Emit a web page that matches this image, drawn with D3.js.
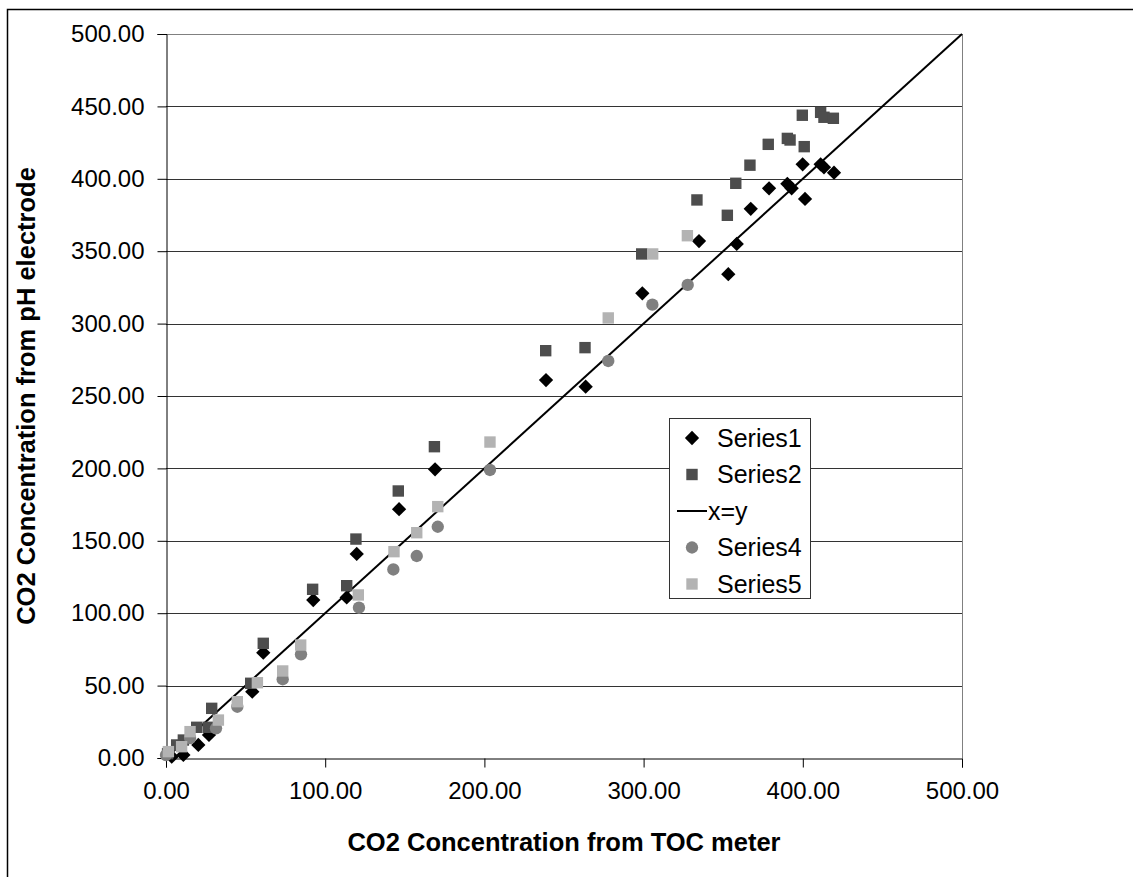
<!DOCTYPE html>
<html>
<head>
<meta charset="utf-8">
<script src="https://cdn.jsdelivr.net/npm/d3@7"></script>
<style>
  body { margin: 0; background: #fff; }
  text { font-family: Arial, "Liberation Sans", sans-serif; }
</style>
</head>
<body>
<div id="chart"></div>
<script>
// [x, y] pairs
var series1 = [[3.6,0.9],[10.9,2.1],[20.3,9.0],[27.0,15.9],[54.2,45.8],[61.1,72.7],[92.5,109.1],[113.5,110.9],
    [119.8,140.9],[146.4,171.8],[169.0,199.4],[238.7,261.0],[263.6,256.4],[299.2,320.9],[334.8,357.0],
    [353.2,334.1],[358.5,355.0],[367.3,379.3],[378.8,393.4],[390.3,396.5],[393.0,393.4],[399.9,410.0],
    [401.4,386.1],[411.2,410.0],[413.3,407.9],[419.6,404.2]];
var series2 = [[1.0,3.0],[6.7,9.0],[10.9,12.4],[19.3,21.2],[26.6,21.2],[28.7,34.3],[53.2,51.6],[61.1,79.2],
    [92.1,116.5],[113.5,119.0],[119.3,151.2],[145.9,184.4],[168.6,215.0],[238.5,281.3],[263.2,283.4],
    [298.8,348.1],[333.5,385.4],[352.6,374.8],[357.9,396.9],[366.8,409.4],[378.3,423.8],[390.3,427.9],
    [392.0,426.8],[399.7,443.9],[400.9,422.2],[411.2,445.9],[413.3,442.5],[419.2,441.8]];
var series4 = [[0.0,2.0],[15.1,13.8],[31.4,20.5],[44.8,35.4],[73.3,54.4],[84.8,71.6],[121.2,103.8],
    [142.8,130.2],[157.5,139.5],[170.7,159.7],[203.5,198.9],[277.8,274.2],[305.5,313.1],[327.7,326.7]];
var series5 = [[1.5,4.4],[9.8,7.8],[15.1,18.2],[32.9,26.2],[44.8,38.9],[57.4,52.0],[73.3,60.1],[84.6,78.0],
    [120.8,112.6],[143.2,142.5],[157.5,155.6],[170.7,173.6],[203.5,218.2],[277.8,303.9],[305.7,348.1],
    [327.5,360.7]];
var identityLine = [[0, 0], [500, 500]];
var tickValues = [0, 50, 100, 150, 200, 250, 300, 350, 400, 450, 500];
var xTickValues = [0, 100, 200, 300, 400, 500];
var legendLabels = ["Series1", "Series2", "x=y", "Series4", "Series5"];

var margin = { top: 34, right: 171, bottom: 119, left: 166 },
    width = 1133 - margin.left - margin.right,
    height = 877 - margin.top - margin.bottom;

var svg = d3.select("#chart").append("svg")
    .attr("width", 1133)
    .attr("height", 877);

// outer chart border (right/bottom edges fall outside the picture)
svg.append("rect")
    .attr("x", 7.5)
    .attr("y", 9.5)
    .attr("width", 1140)
    .attr("height", 880)
    .attr("fill", "#fff")
    .attr("stroke", "#000")
    .attr("stroke-width", 1.5);

var g = svg.append("g")
    .attr("transform", "translate(" + margin.left + "," + margin.top + ")");

var x = d3.scaleLinear().domain([0, 500]).range([0, width]);
var y = d3.scaleLinear().domain([0, 500]).range([height, 0]);
var fmt = d3.format(".2f");

// gridlines
g.append("g")
    .selectAll("line")
    .data(tickValues.slice(1))
    .enter().append("line")
    .attr("x1", 0)
    .attr("x2", width)
    .attr("y1", function(d) { return Math.round(y(d)) + 0.5; })
    .attr("y2", function(d) { return Math.round(y(d)) + 0.5; })
    .attr("stroke", function(d) { return d === 500 ? "#808080" : "#333"; })
    .attr("stroke-width", 1);

// right edge of plot area
g.append("line")
    .attr("x1", width + 0.5).attr("x2", width + 0.5)
    .attr("y1", 0).attr("y2", height)
    .attr("stroke", "#808080");

var yAxis = g.append("g")
    .attr("transform", "translate(0.5,0)")
    .call(d3.axisLeft(y).tickValues(tickValues).tickFormat(fmt).tickSize(9).tickPadding(13));

var xAxis = g.append("g")
    .attr("transform", "translate(0," + (height + 0.5) + ")")
    .call(d3.axisBottom(x).tickValues(xTickValues).tickFormat(fmt).tickSize(9).tickPadding(14));

[yAxis, xAxis].forEach(function(a) {
    a.select(".domain").attr("stroke", "#000");
    a.selectAll(".tick line").attr("stroke", "#000");
    a.selectAll("text")
        .style("font-size", "24px")
        .style("font-family", "Arial, 'Liberation Sans', sans-serif")
        .attr("fill", "#000");
});

// axis titles
svg.append("text")
    .attr("x", margin.left + width / 2)
    .attr("y", 851)
    .attr("text-anchor", "middle")
    .style("font-size", "25.5px")
    .style("font-weight", "bold")
    .text("CO2 Concentration from TOC meter");

svg.append("text")
    .attr("transform", "translate(35," + (margin.top + height / 2) + ") rotate(-90)")
    .attr("text-anchor", "middle")
    .style("font-size", "25.5px")
    .style("font-weight", "bold")
    .text("CO2 Concentration from pH electrode");

// x=y line
g.append("path")
    .datum(identityLine)
    .attr("fill", "none")
    .attr("stroke", "#000")
    .attr("stroke-width", 2)
    .attr("d", d3.line()
        .x(function(d) { return x(d[0]); })
        .y(function(d) { return y(d[1]); }));

var diamond = d3.symbol().type(d3.symbolDiamond2).size(130);
var square = d3.symbol().type(d3.symbolSquare).size(130);
var circle = d3.symbol().type(d3.symbolCircle).size(120);

function drawSeries(data, sym, color) {
    g.append("g")
        .selectAll("path")
        .data(data)
        .enter().append("path")
        .attr("d", sym)
        .attr("transform", function(d) { return "translate(" + x(d[0]) + "," + y(d[1]) + ")"; })
        .attr("fill", color);
}

drawSeries(series1, diamond, "#000");
drawSeries(series2, square, "#4d4d4d");
drawSeries(series4, circle, "#808080");
drawSeries(series5, square, "#b3b3b3");

// legend
var legendG = svg.append("g").attr("transform", "translate(669,418)");
legendG.append("rect")
    .attr("x", 0.5).attr("y", 0.5)
    .attr("width", 141).attr("height", 180)
    .attr("fill", "#fff")
    .attr("stroke", "#333");

var legendSyms = [
    { sym: diamond, color: "#000" },
    { sym: square, color: "#4d4d4d" },
    null,
    { sym: circle, color: "#808080" },
    { sym: square, color: "#b3b3b3" }
];

var item = legendG.selectAll(".legend-item")
    .data(legendLabels)
    .enter().append("g")
    .attr("class", "legend-item")
    .attr("transform", function(d, i) { return "translate(0," + (20 + i * 36.5) + ")"; });

item.each(function(d, i) {
    var s = d3.select(this);
    if (legendSyms[i]) {
        s.append("path")
            .attr("d", legendSyms[i].sym)
            .attr("transform", "translate(23,0)")
            .attr("fill", legendSyms[i].color);
    } else {
        s.append("line")
            .attr("x1", 8).attr("x2", 38)
            .attr("y1", 0).attr("y2", 0)
            .attr("stroke", "#000")
            .attr("stroke-width", 2);
    }
});

item.append("text")
    .attr("x", function(d, i) { return i === 2 ? 39 : 48; })
    .attr("y", 0)
    .attr("dy", "0.35em")
    .style("font-size", "25px")
    .text(function(d) { return d; });
</script>
</body>
</html>
